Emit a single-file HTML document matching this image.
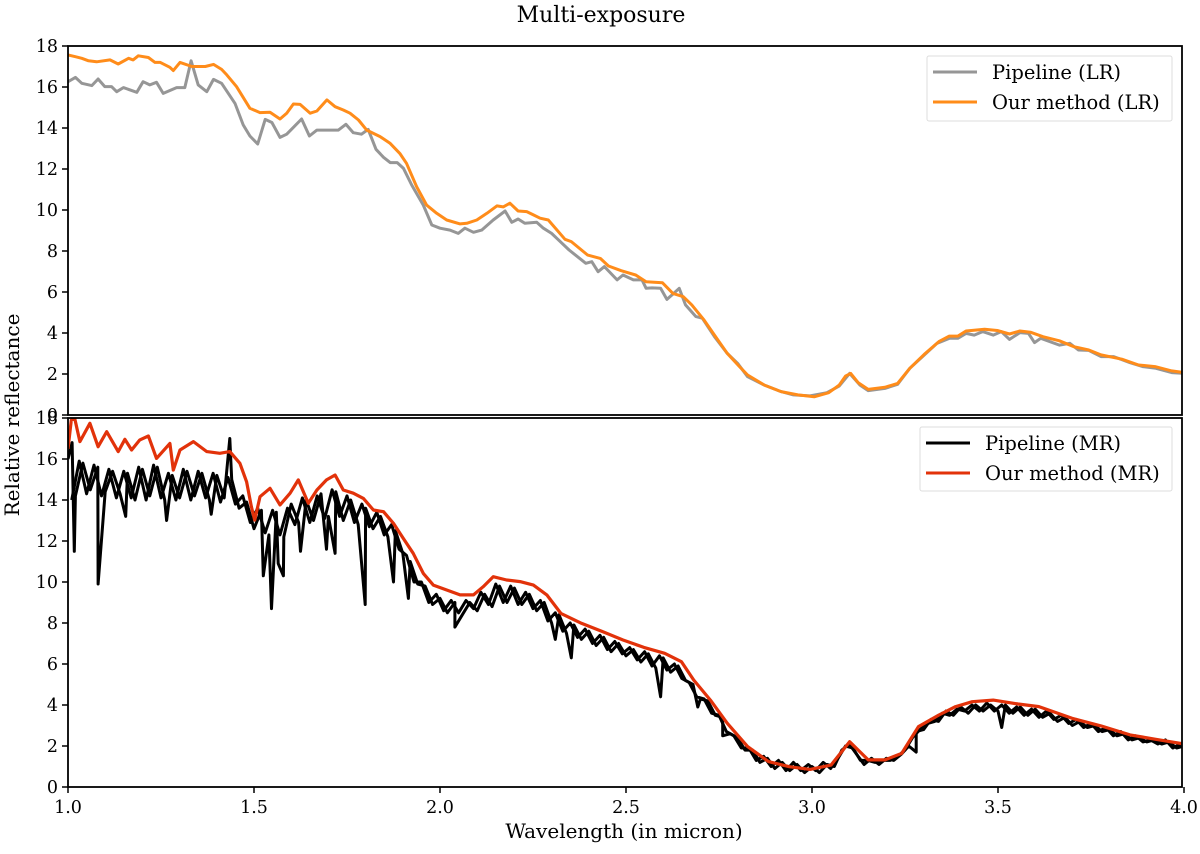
<!DOCTYPE html>
<html><head><meta charset="utf-8"><style>
html,body{margin:0;padding:0;background:#fff;}
svg text{font-family:"DejaVu Serif","Liberation Serif",serif;fill:#000;}
</style></head><body>
<svg id="chart" width="1200" height="849" viewBox="0 0 1200 849" xmlns="http://www.w3.org/2000/svg">
<text x="601" y="22" font-size="22" text-anchor="middle">Multi-exposure</text>
<text transform="translate(19,415) rotate(-90)" font-size="20" text-anchor="middle">Relative reflectance</text>
<text x="624" y="838" font-size="20" text-anchor="middle">Wavelength (in micron)</text>
<g id="top"></g>
<g id="bot"></g>
</svg>
<script>
const xTicks=[1.0,1.5,2.0,2.5,3.0,3.5,4.0];
const xTickLabels=["1.0","1.5","2.0","2.5","3.0","3.5","4.0"];
const yTicks=[0,2,4,6,8,10,12,14,16,18];
const yTickLabels=["0","2","4","6","8","10","12","14","16","18"];

const lrPipeX=[1.00,1.02,1.037,1.064,1.081,1.099,1.117,1.131,1.149,1.185,1.202,1.220,1.238,1.256,1.292,1.314,1.331,1.350,1.373,1.391,1.413,1.449,1.471,1.489,1.510,1.530,1.548,1.570,1.588,1.628,1.649,1.669,1.727,1.747,1.767,1.789,1.807,1.828,1.848,1.866,1.885,1.902,1.924,1.955,1.978,2.000,2.027,2.049,2.067,2.090,2.112,2.143,2.175,2.193,2.210,2.228,2.260,2.278,2.300,2.314,2.347,2.392,2.408,2.425,2.442,2.476,2.492,2.520,2.543,2.554,2.570,2.593,2.610,2.626,2.643,2.660,2.688,2.705,2.738,2.772,2.800,2.827,2.872,2.917,2.950,2.995,3.040,3.073,3.101,3.129,3.151,3.196,3.230,3.263,3.297,3.336,3.369,3.392,3.414,3.436,3.459,3.487,3.509,3.531,3.559,3.582,3.598,3.615,3.665,3.693,3.716,3.744,3.777,3.811,3.855,3.889,3.922,3.967,4.00];
const lrPipeY=[16.26,16.47,16.18,16.07,16.39,16.02,16.02,15.77,15.97,15.74,16.26,16.10,16.23,15.69,15.97,15.97,17.28,16.10,15.77,16.37,16.18,15.2,14.15,13.61,13.22,14.42,14.27,13.54,13.7,14.44,13.61,13.9,13.9,14.18,13.77,13.7,13.93,12.96,12.57,12.31,12.31,12.03,11.22,10.24,9.27,9.11,9.02,8.86,9.11,8.91,9.02,9.51,9.95,9.4,9.56,9.35,9.4,9.11,8.86,8.62,8.05,7.4,7.48,6.99,7.24,6.59,6.83,6.59,6.59,6.18,6.2,6.18,5.64,5.9,6.18,5.37,4.8,4.72,3.82,3.01,2.52,1.87,1.46,1.14,0.98,0.93,1.09,1.41,2.03,1.46,1.19,1.30,1.5,2.28,2.85,3.5,3.74,3.74,3.98,3.9,4.07,3.9,4.07,3.69,4.02,3.98,3.53,3.74,3.41,3.5,3.17,3.15,2.85,2.85,2.55,2.36,2.29,2.07,2.03];

const lrOursX=[1.00,1.02,1.037,1.055,1.077,1.113,1.135,1.163,1.175,1.189,1.216,1.234,1.248,1.274,1.283,1.301,1.333,1.369,1.391,1.413,1.427,1.453,1.489,1.516,1.543,1.570,1.588,1.606,1.624,1.651,1.669,1.696,1.718,1.74,1.758,1.781,1.803,1.839,1.866,1.892,1.91,1.937,1.964,1.991,2.018,2.054,2.072,2.099,2.126,2.153,2.17,2.188,2.21,2.233,2.251,2.269,2.291,2.336,2.353,2.397,2.431,2.453,2.487,2.526,2.554,2.598,2.626,2.654,2.677,2.710,2.738,2.772,2.805,2.827,2.872,2.917,2.962,3.006,3.045,3.073,3.090,3.104,3.124,3.151,3.196,3.230,3.263,3.302,3.341,3.369,3.392,3.414,3.464,3.498,3.531,3.559,3.587,3.621,3.665,3.704,3.744,3.777,3.833,3.878,3.922,3.967,4.00];
const lrOursY=[17.56,17.48,17.4,17.28,17.23,17.32,17.12,17.4,17.32,17.52,17.44,17.2,17.2,16.96,16.8,17.2,17.0,17.0,17.1,16.86,16.59,16.02,14.96,14.75,14.77,14.44,14.72,15.17,15.15,14.72,14.83,15.37,15.04,14.88,14.72,14.39,13.9,13.58,13.25,12.76,12.28,11.14,10.24,9.84,9.51,9.32,9.35,9.51,9.84,10.2,10.15,10.33,9.95,9.92,9.76,9.6,9.51,8.57,8.46,7.8,7.64,7.27,7.04,6.83,6.5,6.45,5.93,5.77,5.37,4.63,3.9,3.01,2.36,1.95,1.46,1.14,0.98,0.89,1.09,1.46,1.9,2.03,1.58,1.25,1.35,1.54,2.28,2.96,3.58,3.85,3.85,4.1,4.18,4.12,3.95,4.1,4.04,3.82,3.62,3.33,3.17,2.93,2.72,2.44,2.36,2.15,2.07];

// MR pipeline: values on a 0.02 grid from 1.00 to 4.00, plus offset grid from 1.01
const mrPipeStart=1.0, mrPipeStep=0.02, mrPipeStart2=1.01;
const mrPipeY=[16.0,14.2,15.8,14.5,15.6,14.4,15.4,14.3,15.3,14.0,15.5,14.2,15.6,14.0,15.2,14.1,15.4,14.2,15.3,14.0,15.2,14.1,15.0,13.6,13.9,12.6,13.5,12.3,13.4,12.2,13.8,12.9,14.0,13.0,14.3,13.2,14.4,13.0,14.0,12.8,13.6,12.6,13.2,12.2,12.5,11.4,11.0,9.9,9.8,8.9,9.2,8.5,9.0,8.4,9.0,8.6,9.4,8.8,9.8,9.0,9.7,8.9,9.4,8.6,9.0,8.0,8.4,7.5,7.9,7.2,7.6,6.9,7.3,6.6,7.0,6.4,6.7,6.1,6.5,5.8,6.3,5.6,5.9,5.2,5.0,4.3,4.2,3.5,3.4,2.6,2.4,1.8,1.8,1.2,1.4,0.9,1.2,0.8,1.1,0.7,1.0,0.7,1.1,1.0,1.8,2.1,1.6,1.1,1.4,1.1,1.4,1.3,1.6,2.0,2.7,2.8,3.3,3.2,3.7,3.5,3.9,3.6,4.0,3.7,4.0,3.7,4.0,3.6,3.9,3.5,3.8,3.4,3.6,3.2,3.4,3.0,3.2,2.9,3.0,2.7,2.8,2.5,2.6,2.3,2.4,2.2,2.3,2.1,2.2,1.9,2.0];
const mrPipeY2=[14.0,15.9,14.3,15.7,14.2,15.5,14.1,15.4,14.1,15.6,14.0,15.7,14.1,15.3,14.0,15.5,14.0,15.4,14.1,15.3,13.9,15.1,13.8,14.2,12.9,13.6,12.4,13.5,12.3,13.6,12.8,14.1,12.9,14.2,13.1,14.5,13.2,14.2,12.9,13.8,12.7,13.4,12.3,12.8,11.6,11.3,10.0,10.0,9.0,9.4,8.6,9.1,8.5,9.1,8.7,9.5,8.9,9.9,9.0,9.8,8.9,9.5,8.7,9.1,8.1,8.5,7.6,8.0,7.3,7.7,7.0,7.4,6.7,7.1,6.5,6.8,6.2,6.6,5.9,6.4,5.7,6.0,5.3,5.1,4.4,4.3,3.6,3.5,2.7,2.5,1.9,1.9,1.3,1.5,1.0,1.3,0.8,1.2,0.8,1.1,0.8,1.2,0.9,1.4,2.0,1.9,1.3,1.3,1.2,1.3,1.3,1.5,1.8,2.4,2.8,3.1,3.2,3.6,3.5,3.8,3.7,4.0,3.7,4.1,3.7,4.0,3.6,3.9,3.5,3.8,3.4,3.7,3.3,3.5,3.1,3.3,2.9,3.1,2.7,2.9,2.5,2.7,2.3,2.5,2.2,2.3,2.1,2.3,1.9,2.1];
const mrSpikeX=[1.011,1.017,1.081,1.155,1.265,1.385,1.435,1.525,1.547,1.565,1.579,1.625,1.695,1.718,1.799,1.875,1.915,2.04,2.31,2.353,2.593,2.693,2.76,3.28,3.51];
const mrSpikeY=[16.8,11.5,9.9,13.2,13.0,13.3,17.0,10.3,8.7,10.9,10.3,11.5,11.6,11.4,8.9,10.0,9.2,7.8,7.2,6.3,4.4,3.9,2.5,1.7,2.9];

const mrOursX=[1.0,1.009,1.018,1.032,1.059,1.081,1.104,1.135,1.153,1.171,1.193,1.216,1.238,1.274,1.283,1.301,1.337,1.373,1.408,1.435,1.462,1.480,1.493,1.502,1.516,1.543,1.570,1.597,1.619,1.646,1.669,1.695,1.718,1.740,1.767,1.794,1.821,1.848,1.875,1.901,1.928,1.955,1.982,2.018,2.054,2.090,2.116,2.143,2.179,2.215,2.251,2.287,2.325,2.381,2.437,2.492,2.548,2.604,2.649,2.682,2.727,2.772,2.827,2.883,2.939,2.995,3.051,3.101,3.151,3.196,3.241,3.286,3.341,3.386,3.431,3.487,3.554,3.610,3.699,3.777,3.855,3.922,4.00];
const mrOursY=[16.5,17.9,17.98,16.85,17.74,16.6,17.33,16.36,16.96,16.44,16.93,17.12,16.03,16.76,15.46,16.44,16.85,16.36,16.28,16.36,15.79,14.89,13.67,13.02,14.16,14.57,13.76,14.33,14.98,13.84,14.49,14.98,15.22,14.49,14.33,14.08,13.51,13.43,12.86,12.13,11.4,10.42,9.85,9.61,9.37,9.37,9.77,10.26,10.1,10.02,9.85,9.37,8.47,7.98,7.58,7.17,6.81,6.52,6.11,5.22,4.24,3.11,1.97,1.24,0.99,0.86,1.07,2.21,1.32,1.32,1.64,2.94,3.51,3.92,4.16,4.24,4.05,3.92,3.35,2.98,2.54,2.33,2.10];

const NS="http://www.w3.org/2000/svg";
const X0=68,X1=1184;
function xs(v){return X0+(v-1)/3*(X1-X0);}
function mk(tag,attrs,parent){const e=document.createElementNS(NS,tag);for(const k in attrs)e.setAttribute(k,attrs[k]);parent.appendChild(e);return e;}
function panel(g,yTop,yBot,clipId){
  const ys=v=>yBot-(v/18)*(yBot-yTop);
  const cp=mk('clipPath',{id:clipId},g);
  mk('rect',{x:X0,y:yTop,width:X1-X0-2,height:yBot-yTop},cp);
  return ys;
}
function drawLine(g,xa,ya,ys,color,name,clip,w){
  let d='';
  for(let i=0;i<xa.length;i++){d+=(i?'L':'M')+xs(xa[i]).toFixed(1)+' '+ys(ya[i]).toFixed(1);}
  const p=mk('path',{d:d,fill:'none',stroke:color,'stroke-width':w||3,'stroke-linejoin':'round','clip-path':'url(#'+clip+')'},g);
  
  
}
function axes(g,yTop,yBot,ys,showX,name){
  yTicks.forEach((t,i)=>{
    const y=ys(t);
    const l=mk('line',{x1:X0-6,x2:X0,y1:y,y2:y,stroke:'#000','stroke-width':1.5},g);
    
    
    const tx=mk('text',{x:X0-10,y:y+6,'font-size':17.5,'text-anchor':'end'},g);
    tx.textContent=yTickLabels[i];
    
    
  });
  if(showX){
    xTicks.forEach((t,i)=>{
      const x=xs(t);
      const l=mk('line',{x1:x,x2:x,y1:yBot,y2:yBot+6,stroke:'#000','stroke-width':1.5},g);
      
      
      const tx=mk('text',{x:x,y:yBot+26,'font-size':17.5,'text-anchor':'middle'},g);
      tx.textContent=xTickLabels[i];
      
      
    });
  }
  const r=mk('rect',{x:X0,y:yTop,width:X1-X0-2,height:yBot-yTop,fill:'none',stroke:'#000','stroke-width':1.8},g);
  
  
}
function legend(g,x,y,w,h,entries,lineX,textX){
  const lg=mk('g',{},g);
  
  
  mk('rect',{x:x,y:y,width:w,height:h,fill:'#fff',stroke:'#ddd','stroke-width':1,rx:2},lg);
  entries.forEach((e,i)=>{
    const yy=y+16+i*30;
    const eg=mk('g',{},lg);
    
    
    mk('line',{x1:lineX,x2:lineX+44,y1:yy,y2:yy,stroke:e[1],'stroke-width':3},eg);
    const t=mk('text',{x:textX,y:yy+7,'font-size':19.5},eg);
    t.textContent=e[0];
  });
}
// top
const gt=document.getElementById('top');
const ysT=panel(gt,46,415,'clipT');
drawLine(gt,lrPipeX,lrPipeY,ysT,'#969696','pipeline-lr-line','clipT');
drawLine(gt,lrOursX,lrOursY,ysT,'#ff8c1a','our-method-lr-line','clipT');
axes(gt,46,415,ysT,false,'top');
legend(gt,927,56,245,65,[['Pipeline (LR)','#969696'],['Our method (LR)','#ff8c1a']],933,992);
// bottom
const gb=document.getElementById('bot');
const ysB=panel(gb,418,787,'clipB');
const pts=[];
for(let i=0;i<mrPipeY.length;i++)pts.push([mrPipeStart+i*mrPipeStep,mrPipeY[i]]);
for(let i=0;i<mrSpikeX.length;i++)pts.push([mrSpikeX[i],mrSpikeY[i]]);
pts.sort((a,b)=>a[0]-b[0]);
const x2=mrPipeY2.map((v,i)=>mrPipeStart2+i*mrPipeStep);
drawLine(gb,x2,mrPipeY2,ysB,'#000','pipeline-mr-line-offset','clipB',3);
drawLine(gb,pts.map(p=>p[0]),pts.map(p=>p[1]),ysB,'#000','pipeline-mr-line','clipB',3);
drawLine(gb,mrOursX,mrOursY,ysB,'#e2320a','our-method-mr-line','clipB',3.2);
axes(gb,418,787,ysB,true,'bottom');
legend(gb,920,427,252,64,[['Pipeline (MR)','#000'],['Our method (MR)','#e2320a']],926,985);
</script>
</body></html>
